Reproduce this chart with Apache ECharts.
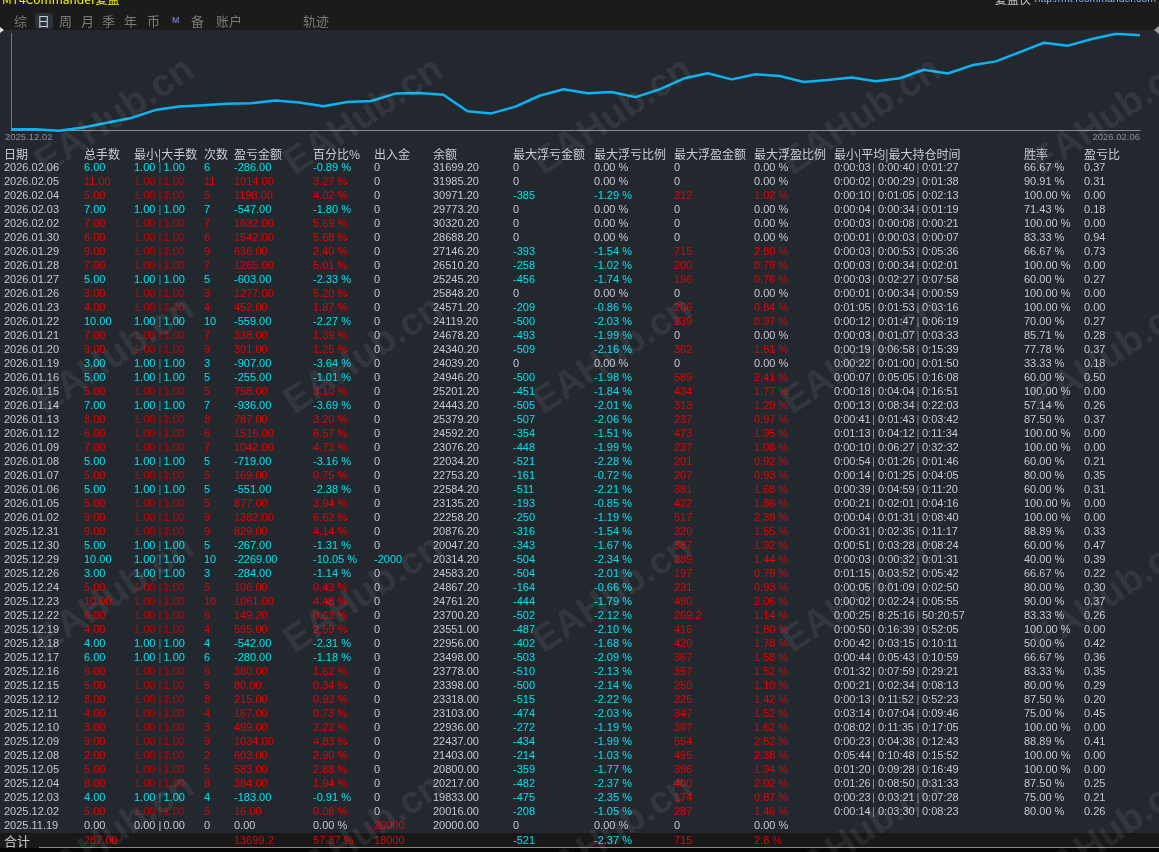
<!DOCTYPE html>
<html><head><meta charset="utf-8">
<script src="https://cdn.jsdelivr.net/npm/echarts@6/dist/echarts.min.js"></script>
<style>html,body{margin:0;padding:0;background:#23282f;overflow:hidden}#c{width:1159px;height:852px}</style>
</head><body><div id="c"></div>
<script>
// ---------- data ----------
const dates = ['2026.02.06','2026.02.05','2026.02.04','2026.02.03','2026.02.02','2026.01.30','2026.01.29','2026.01.28','2026.01.27','2026.01.26','2026.01.23','2026.01.22','2026.01.21','2026.01.20','2026.01.19','2026.01.16','2026.01.15','2026.01.14','2026.01.13','2026.01.12','2026.01.09','2026.01.08','2026.01.07','2026.01.06','2026.01.05','2026.01.02','2025.12.31','2025.12.30','2025.12.29','2025.12.26','2025.12.24','2025.12.23','2025.12.22','2025.12.19','2025.12.18','2025.12.17','2025.12.16','2025.12.15','2025.12.12','2025.12.11','2025.12.10','2025.12.09','2025.12.08','2025.12.05','2025.12.04','2025.12.03','2025.12.02','2025.11.19'];
const lots = [6,11,5,7,7,6,9,7,5,3,4,10,7,9,3,5,5,7,8,6,7,5,5,5,5,9,9,5,10,3,5,10,6,4,4,6,6,5,8,4,3,9,2,5,8,4,5,0];
const minLot = [1,1,1,1,1,1,1,1,1,1,1,1,1,1,1,1,1,1,1,1,1,1,1,1,1,1,1,1,1,1,1,1,1,1,1,1,1,1,1,1,1,1,1,1,1,1,1,0];
const maxLot = [1,1,1,1,1,1,1,1,1,1,1,1,1,1,1,1,1,1,1,1,1,1,1,1,1,1,1,1,1,1,1,1,1,1,1,1,1,1,1,1,1,1,1,1,1,1,1,0];
const trades = [6,11,5,7,7,6,9,7,5,3,4,10,7,9,3,5,5,7,8,6,7,5,5,5,5,9,9,5,10,3,5,10,6,4,4,6,6,5,8,4,3,9,2,5,8,4,5,0];
const pnl = [-286,1014,1198,-547,1632,1542,636,1265,-603,1277,452,-559,338,301,-907,-255,758,-936,787,1516,1042,-719,169,-551,877,1382,829,-267,-2269,-284,106,1061,149.2,595,-542,-280,380,80,215,167,499,1034,603,583,384,-183,16,0];
const pct = [-0.89,3.27,4.02,-1.80,5.69,5.68,2.40,5.01,-2.33,5.20,1.87,-2.27,1.39,1.25,-3.64,-1.01,3.10,-3.69,3.20,6.57,4.73,-3.16,0.75,-2.38,3.94,6.62,4.14,-1.31,-10.05,-1.14,0.43,4.48,0.63,2.59,-2.31,-1.18,1.62,0.34,0.93,0.73,2.22,4.83,2.90,2.88,1.94,-0.91,0.08,0.00];
const cash = [0,0,0,0,0,0,0,0,0,0,0,0,0,0,0,0,0,0,0,0,0,0,0,0,0,0,0,0,-2000,0,0,0,0,0,0,0,0,0,0,0,0,0,0,0,0,0,0,20000];
const balance = [31699.20,31985.20,30971.20,29773.20,30320.20,28688.20,27146.20,26510.20,25245.20,25848.20,24571.20,24119.20,24678.20,24340.20,24039.20,24946.20,25201.20,24443.20,25379.20,24592.20,23076.20,22034.20,22753.20,22584.20,23135.20,22258.20,20876.20,20047.20,20314.20,24583.20,24867.20,24761.20,23700.20,23551.00,22956.00,23498.00,23778.00,23398.00,23318.00,23103.00,22936.00,22437.00,21403.00,20800.00,20217.00,19833.00,20016.00,20000.00];
const floatLoss = [0,0,-385,0,0,0,-393,-258,-456,0,-209,-500,-493,-509,0,-500,-451,-505,-507,-354,-448,-521,-161,-511,-193,-250,-316,-343,-504,-504,-164,-444,-502,-487,-402,-503,-510,-500,-515,-474,-272,-434,-214,-359,-482,-475,-208,0];
const floatLossPct = [0,0,-1.29,0,0,0,-1.54,-1.02,-1.74,0,-0.86,-2.03,-1.99,-2.16,0,-1.98,-1.84,-2.01,-2.06,-1.51,-1.99,-2.28,-0.72,-2.21,-0.85,-1.19,-1.54,-1.67,-2.34,-2.01,-0.66,-1.79,-2.12,-2.10,-1.68,-2.09,-2.13,-2.14,-2.22,-2.03,-1.19,-1.99,-1.03,-1.77,-2.37,-2.35,-1.05,0];
const floatProfit = [0,0,312,0,0,0,715,200,196,0,206,239,0,362,0,589,434,313,237,473,237,201,207,381,422,517,320,387,289,197,231,490,269.2,416,420,367,357,250,325,347,367,554,495,396,400,174,287,0];
const floatProfitPct = [0,0,1.02,0,0,0,2.80,0.79,0.76,0,0.84,0.97,0,1.51,0,2.41,1.77,1.29,0.97,1.95,1.08,0.92,0.93,1.68,1.86,2.39,1.55,1.92,1.44,0.79,0.93,2.06,1.14,1.80,1.78,1.58,1.52,1.10,1.42,1.52,1.62,2.52,2.38,1.94,2.02,0.87,1.46,0];
const holdMin = ['0:00:03','0:00:02','0:00:10','0:00:04','0:00:03','0:00:01','0:00:03','0:00:03','0:00:03','0:00:01','0:01:05','0:00:12','0:00:03','0:00:19','0:00:22','0:00:07','0:00:18','0:00:13','0:00:41','0:01:13','0:00:10','0:00:54','0:00:14','0:00:39','0:00:21','0:00:04','0:00:31','0:00:51','0:00:03','0:01:15','0:00:05','0:00:02','0:00:25','0:00:50','0:00:42','0:00:44','0:01:32','0:00:21','0:00:13','0:03:14','0:08:02','0:00:23','0:05:44','0:01:20','0:01:26','0:00:23','0:00:14',''];
const holdAvg = ['0:00:40','0:00:29','0:01:05','0:00:34','0:00:08','0:00:03','0:00:53','0:00:34','0:02:27','0:00:34','0:01:53','0:01:47','0:01:07','0:06:58','0:01:00','0:05:05','0:04:04','0:08:34','0:01:43','0:04:12','0:06:27','0:01:26','0:01:25','0:04:59','0:02:01','0:01:31','0:02:35','0:03:28','0:00:32','0:03:52','0:01:09','0:02:24','8:25:16','0:16:39','0:03:15','0:05:43','0:07:59','0:02:34','0:11:52','0:07:04','0:11:35','0:04:38','0:10:48','0:09:28','0:08:50','0:03:21','0:03:30',''];
const holdMax = ['0:01:27','0:01:38','0:02:13','0:01:19','0:00:21','0:00:07','0:05:36','0:02:01','0:07:58','0:00:59','0:03:16','0:06:19','0:03:33','0:15:39','0:01:50','0:16:08','0:16:51','0:22:03','0:03:42','0:11:34','0:32:32','0:01:46','0:04:05','0:11:20','0:04:16','0:08:40','0:11:17','0:08:24','0:01:31','0:05:42','0:02:50','0:05:55','50:20:57','0:52:05','0:10:11','0:10:59','0:29:21','0:08:13','0:52:23','0:09:46','0:17:05','0:12:43','0:15:52','0:16:49','0:31:33','0:07:28','0:08:23',''];
const winRate = [66.67,90.91,100,71.43,100,83.33,66.67,100,60,100,100,70,85.71,77.78,33.33,60,100,57.14,87.5,100,100,60,80,60,100,100,88.89,60,40,66.67,80,90,83.33,100,50,66.67,83.33,80,87.5,75,100,88.89,100,100,87.5,75,80,null];
const plRatio = [0.37,0.31,0,0.18,0,0.94,0.73,0,0.27,0,0,0.27,0.28,0.37,0.18,0.50,0,0.26,0.37,0,0,0.21,0.35,0.31,0,0,0.33,0.47,0.39,0.22,0.30,0.37,0.26,0,0.42,0.36,0.35,0.29,0.20,0.45,0,0.41,0,0,0.25,0.21,0.26,null];
const headers = ['日期','总手数','最小|大手数','次数','盈亏金额','百分比%','出入金','余额','最大浮亏金额','最大浮亏比例','最大浮盈金额','最大浮盈比例','最小|平均|最大持仓时间','胜率','盈亏比'];
const totalCols = [1,4,5,6,8,9,10,11];
const totalTexts = ['287.00','13699.2','57.37 %','18000','-521','-2.37 %','715','2.8 %'];
const totalSigns = [1,1,1,1,-1,-1,1,1];
// equity curve (cumulative % , oldest first)
const curveDates = ['2025.11.19','2025.12.02','2025.12.03','2025.12.04','2025.12.05','2025.12.08','2025.12.09','2025.12.10','2025.12.11','2025.12.12','2025.12.15','2025.12.16','2025.12.17','2025.12.18','2025.12.19','2025.12.22','2025.12.23','2025.12.24','2025.12.26','2025.12.29','2025.12.30','2025.12.31','2026.01.02','2026.01.05','2026.01.06','2026.01.07','2026.01.08','2026.01.09','2026.01.12','2026.01.13','2026.01.14','2026.01.15','2026.01.16','2026.01.19','2026.01.20','2026.01.21','2026.01.22','2026.01.23','2026.01.26','2026.01.27','2026.01.28','2026.01.29','2026.01.30','2026.02.02','2026.02.03','2026.02.04','2026.02.05','2026.02.06'];
const equityPct = [0,0.08,-0.83,1.11,3.99,6.89,11.72,13.94,14.67,15.60,15.94,17.56,16.38,14.07,16.66,17.29,21.77,22.20,21.06,11.01,9.70,13.84,20.46,24.40,22.02,22.77,19.61,24.34,30.91,34.11,30.42,33.52,32.51,28.87,30.12,31.51,29.24,31.11,36.31,33.98,38.99,41.39,47.07,52.76,50.96,54.98,58.25,57.36];
const tabs = ['综','日','周','月','季','年','币','M','备','账户','轨迹'];

// ---------- layout / style ----------
const RED='#e60000', RED2='#cc0000', CYAN='#00e2ee', TEAL='#12a6aa', GRAY='#c3c8d1';
const FONT='11px "Liberation Sans", Arial, sans-serif';
const CJK='12px "Noto Sans CJK SC", sans-serif';
const colX=[4,84,134,204,234,313,374,433,513,594,674,754,834,1024,1084];
const tabX=[14,37,59,81,102,124,147,172,191,216,303];

function T(x,y,text,fill,font,align){
  return {type:'text',x:x,y:y,silent:true,style:{text:String(text),fill:fill,font:font||FONT,
    align:align||'left',verticalAlign:'middle',textAlign:align||'left',textVerticalAlign:'middle'}};
}
const pctStr=v=>v.toFixed(2)+' %';
const sc=v=>v>0?RED:(v<0?CYAN:GRAY);

function renderRow(params, api){
  const i=params.dataIndex;
  const y=api.coord([0,i])[1];
  const rc=sc(pnl[i]);
  const rc2=pnl[i]>0?RED2:(pnl[i]<0?CYAN:GRAY);
  const bar=pnl[i]>0?RED2:(pnl[i]<0?TEAL:GRAY);
  const ch=[];
  ch.push(T(colX[0],y,dates[i],GRAY));
  ch.push(T(colX[1],y,lots[i].toFixed(2),rc));
  ch.push(T(colX[2],y,minLot[i].toFixed(2),rc2));
  ch.push(T(colX[2]+24.5,y,'|',bar));
  ch.push(T(colX[2]+29.5,y,maxLot[i].toFixed(2),rc2));
  ch.push(T(colX[3],y,trades[i],rc));
  ch.push(T(colX[4],y,pnl[i].toFixed(2),rc));
  ch.push(T(colX[5],y,pctStr(pct[i]),rc));
  ch.push(T(colX[6],y,cash[i],sc(cash[i])));
  ch.push(T(colX[7],y,balance[i].toFixed(2),GRAY));
  ch.push(T(colX[8],y,floatLoss[i],sc(floatLoss[i])));
  ch.push(T(colX[9],y,pctStr(floatLossPct[i]),sc(floatLossPct[i])));
  ch.push(T(colX[10],y,floatProfit[i],sc(floatProfit[i])));
  ch.push(T(colX[11],y,pctStr(floatProfitPct[i]),sc(floatProfitPct[i])));
  if(holdMin[i]){
    ch.push(T(colX[12],y,holdMin[i],GRAY));
    ch.push(T(colX[12]+38,y,'|','#8f959e'));
    ch.push(T(colX[12]+44,y,holdAvg[i],GRAY));
    ch.push(T(colX[12]+82.5,y,'|','#8f959e'));
    ch.push(T(colX[12]+88,y,holdMax[i],GRAY));
  }
  if(winRate[i]!=null) ch.push(T(colX[13],y,pctStr(winRate[i]),GRAY));
  if(plRatio[i]!=null) ch.push(T(colX[14],y,plRatio[i].toFixed(2),GRAY));
  return {type:'group',children:ch};
}

// ---------- static graphics ----------
const G=[];
G.push({type:'rect',silent:true,shape:{x:0,y:0,width:1159,height:30},style:{fill:'#1b1b1b'}});
G.push({type:'rect',silent:true,shape:{x:35,y:13,width:18,height:16,r:3},style:{fill:'#2b323c'}});
tabs.forEach((t,k)=>{
  if(t==='M'){ G.push(T(tabX[k],21,t,'#6a6fb0','bold 9px "Liberation Sans", Arial')); }
  else G.push(T(tabX[k],21,t,k===1?'#c4d0de':'#7a7a7a','13px "Noto Sans CJK SC", sans-serif'));
});
G.push(T(2,-1,'MT4Commander复盘','#f2f200','12px "Noto Sans CJK SC", sans-serif'));
G.push(T(1156,-1,'http://mt4commander.com','#86b6f2','10.5px "Liberation Sans", Arial','right'));
G.push(T(1031,-1,'复盘侠','#c6c6c6','12px "Noto Sans CJK SC", sans-serif','right'));
G.push({type:'polygon',silent:true,shape:{points:[[0,27],[4,30],[0,33]]},style:{fill:'#e0e0e0'}});
G.push({type:'polygon',silent:true,shape:{points:[[1159,26],[1154,30],[1159,34]]},style:{fill:'#9a9a9a'}});
G.push(T(5,137,curveDates[1],'#8a9099','9.5px "Liberation Sans", Arial'));
G.push(T(1140,137,curveDates[curveDates.length-1],'#8a9099','9.5px "Liberation Sans", Arial','right'));
headers.forEach((h,k)=>G.push(T(colX[k],154,h,'#c8ccd3',CJK)));
G.push({type:'rect',silent:true,shape:{x:0,y:833,width:1159,height:15},style:{fill:'#181818'}});
G.push({type:'rect',silent:true,shape:{x:0,y:848,width:1159,height:4},style:{fill:'#050505'}});
G.push({type:'rect',silent:true,shape:{x:39,y:847,width:1120,height:1},style:{fill:'#8a8a8a'}});
G.push(T(4,841,'合计','#c8c8c8','13px "Noto Sans CJK SC", sans-serif'));
totalCols.forEach((c,k)=>G.push(T(colX[c],841,totalTexts[k],totalSigns[k]>0?RED:CYAN)));
for(let j=0;j<4;j++){for(let k=0;k<5;k++){
  G.push({type:'text',silent:true,z:100,x:50+249*k,y:183+239*j,rotation:0.588,
    style:{text:'EAHub.cn',fill:'rgba(255,255,255,0.07)',font:'bold 38px "Liberation Sans", Arial',
      align:'left',verticalAlign:'bottom',textAlign:'left',textVerticalAlign:'bottom'}});
}}

const chart=echarts.init(document.getElementById('c'),null,{renderer:'canvas'});
chart.setOption({
  backgroundColor:'#23282f',
  animation:false,
  grid:[{left:11,right:19,top:33.7,height:97},{left:0,right:0,top:161,height:672}],
  xAxis:[
    {type:'category',gridIndex:0,data:curveDates,boundaryGap:false,
     axisLine:{onZero:false,lineStyle:{color:'#8a8a8a',width:1}},axisTick:{show:false},axisLabel:{show:false},splitLine:{show:false}},
    {type:'value',gridIndex:1,min:0,max:1159,show:false}
  ],
  yAxis:[
    {type:'value',gridIndex:0,min:v=>v.min,max:v=>v.max,axisLine:{show:true,lineStyle:{color:'#6f7680'}},
     axisTick:{show:false},axisLabel:{show:false},splitLine:{show:false}},
    {type:'category',gridIndex:1,data:dates,inverse:true,show:false}
  ],
  series:[
    {type:'line',xAxisIndex:0,yAxisIndex:0,data:equityPct,showSymbol:false,silent:true,
     lineStyle:{color:'#0ab4f2',width:2.5},itemStyle:{color:'#0ab4f2'}},
    {type:'custom',xAxisIndex:1,yAxisIndex:1,silent:true,clip:false,
     data:dates.map((d,i)=>[0,i]),encode:{x:0,y:1},renderItem:renderRow}
  ],
  graphic:{elements:G}
});
</script>
</body></html>
